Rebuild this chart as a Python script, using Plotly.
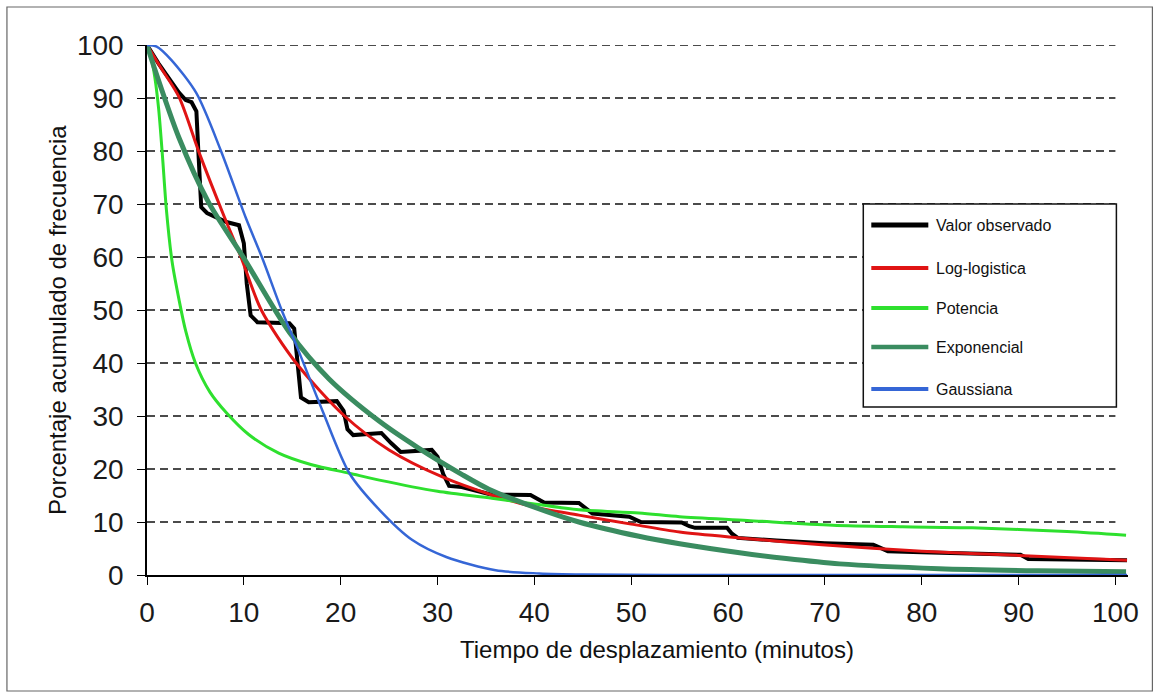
import plotly.graph_objects as go

# ---------------- data ----------------
series_names = ["Valor observado", "Log-logistica", "Potencia", "Exponencial", "Gaussiana"]

obs_x = [0, 1.2, 3.3, 4.0, 4.6, 5.1, 5.3, 5.6, 6.2, 8.2, 9.5, 10.0, 10.3, 10.7, 11.4, 14.7, 15.2,
         15.5, 15.9, 16.7, 19.6, 20.3, 20.7, 21.3, 24.2, 25.2, 26.2, 29.4, 30.0, 30.6, 31.2, 32.5,
         35.5, 39.6, 40.3, 41.0, 44.6, 45.3, 46.0, 49.8, 50.5, 51.0, 55.2, 56.0, 56.6, 59.9, 60.4,
         61.0, 65.0, 70.0, 75.0, 75.8, 76.5, 80.0, 85.0, 90.2, 91.0, 95.0, 101.2]
obs_y = [100, 96.5, 91, 89.6, 89.2, 87.5, 80, 69.4, 68.3, 66.6, 66, 62.6, 55, 49, 47.7, 47.5, 46.5,
         40, 33.5, 32.6, 32.8, 31, 27.5, 26.4, 26.8, 24.9, 23.2, 23.6, 22.3, 19, 16.8, 16.6,
         15.2, 15.1, 14.5, 13.7, 13.6, 12.5, 11.6, 11.0, 10.5, 10.0, 9.9, 9.2, 8.9, 8.9, 7.8,
         7.0, 6.5, 6.0, 5.7, 5.0, 4.5, 4.3, 4.1, 3.8, 3.0, 2.9, 2.8]

loglog_x = [0, 1.4, 3.3, 5.4, 8.0, 9.7, 11.8, 15.4, 20.4, 25.0, 30.5, 35.6, 40.0, 44.6, 50.0,
            55.0, 61.2, 69.7, 80.0, 90.0, 101.2]
loglog_y = [100, 95.8, 90.2, 79.6, 67.5, 60, 50, 40, 30, 23.6, 18.5, 15.1, 12.8, 11.3, 9.6,
            8.1, 7.0, 5.7, 4.5, 3.7, 2.8]

pot_x = [0, 0.4, 0.8, 1.2, 1.6, 2.0, 2.6, 3.3, 4.0, 5.0, 6.5, 8.2, 10.5, 13.6, 17, 20.9, 24,
         30, 35.6, 40, 44.6, 50.8, 55, 62, 70.8, 78, 85.2, 95, 101.1]
pot_y = [100, 98, 94, 88, 79, 69, 59, 52, 46, 40, 34.5, 30.6, 26.5, 23, 20.8, 19.2, 17.9,
         15.8, 14.5, 13.4, 12.3, 11.7, 11.0, 10.3, 9.4, 9.1, 8.9, 8.2, 7.5]

exp_x = [0, 0.7, 3.3, 6.3, 10, 14.7, 18.8, 24, 28, 32.5, 35.3, 40, 44.6, 50.8, 55, 61.2, 66,
         71.5, 81.8, 92, 101.1]
exp_y = [100, 96, 82.5, 70.5, 59.8, 45.8, 37, 29, 24, 19, 16.2, 12.8, 10, 7.3, 5.9, 4.2,
         3.1, 2.1, 1.2, 0.8, 0.6]

gau_x = [0, 1, 2.5, 5.1, 7.6, 10.2, 11.9, 13.9, 15.5, 18.1, 20.9, 24, 27.4, 30.9, 36, 40.5,
         45, 60, 80, 101.2]
gau_y = [100, 99.7, 97.2, 90.9, 80.2, 67.4, 59.8, 50, 43, 31.1, 19.2, 12.3, 6.6, 3.4, 0.9,
         0.3, 0.1, 0, 0, 0]

x_ticks = [0, 10, 20, 30, 40, 50, 60, 70, 80, 90, 100]
y_ticks = [0, 10, 20, 30, 40, 50, 60, 70, 80, 90, 100]
grid_levels = [10, 20, 30, 40, 50, 60, 70, 80, 90, 100]

x_title = "Tiempo de desplazamiento (minutos)"
y_title = "Porcentaje acumulado de frecuencia"

# ---------------- style ----------------
colors = ["#000000", "#e01414", "#2ee02e", "#3a8c60", "#3566d6"]
widths = [4, 3, 3, 5, 2.5]
shapes_ = ["linear", "spline", "spline", "spline", "spline"]

W, H = 1160, 700
L, R, T, B = 147, 1127.6, 45, 575
X_MAX = 101.3


def px(p):
    return (p - L) / (R - L)


def py(p):
    return (B - p) / (B - T)


FONT = "Liberation Sans, Arial, sans-serif"

fig = go.Figure()
data = [(obs_x, obs_y), (loglog_x, loglog_y), (pot_x, pot_y), (exp_x, exp_y), (gau_x, gau_y)]
for (xs, ys), name, c, w, sh in zip(data, series_names, colors, widths, shapes_):
    fig.add_trace(go.Scatter(x=xs, y=ys, mode="lines", name=name,
                             line=dict(color=c, width=w, shape=sh, smoothing=0.8),
                             showlegend=False, cliponaxis=False))

shapes = []
# dashed gridlines
for g in grid_levels:
    shapes.append(dict(type="line", xref="x", yref="y", x0=0, x1=100, y0=g, y1=g,
                       line=dict(color="#111111", width=1.4, dash="8px,5px"), layer="below"))
# outer frame
shapes.append(dict(type="rect", xref="paper", yref="paper", x0=px(7), x1=px(1152),
                   y0=py(691), y1=py(7), line=dict(color="#666666", width=1.2)))
# legend box
lb = (863, 204, 1116, 407)
shapes.append(dict(type="rect", xref="paper", yref="paper", x0=px(lb[0]), x1=px(lb[2]),
                   y0=py(lb[3]), y1=py(lb[1]), line=dict(color="#111111", width=1.5),
                   fillcolor="white", layer="above"))
annotations = []
leg_y = [225, 268, 308, 347, 389]
leg_w = [5, 4, 4, 4.5, 4]
for name, c, yy, lw in zip(series_names, colors, leg_y, leg_w):
    shapes.append(dict(type="line", xref="paper", yref="paper", x0=px(871), x1=px(928),
                       y0=py(yy), y1=py(yy), line=dict(color=c, width=lw), layer="above"))
    annotations.append(dict(xref="paper", yref="paper", x=px(934), y=py(yy), text=name,
                            showarrow=False, xanchor="left", yanchor="middle",
                            font=dict(family=FONT, size=16, color="#111111")))

annotations.append(dict(xref="paper", yref="paper", x=px(657), y=py(649), text=x_title,
                        showarrow=False, xanchor="center", yanchor="middle",
                        font=dict(family=FONT, size=24, color="#111111")))
annotations.append(dict(xref="paper", yref="paper", x=px(57), y=py(320), text=y_title,
                        showarrow=False, xanchor="center", yanchor="middle", textangle=-90,
                        font=dict(family=FONT, size=24, color="#111111")))

fig.update_layout(
    width=W, height=H,
    margin=dict(l=L, r=W - R, t=T, b=H - B),
    paper_bgcolor="white", plot_bgcolor="white",
    shapes=shapes, annotations=annotations,
    font=dict(family=FONT),
    xaxis=dict(range=[0, X_MAX], tickvals=x_ticks, ticktext=[str(v) for v in x_ticks],
               showgrid=False, zeroline=False, showline=True, linecolor="black", linewidth=1.5,
               ticks="outside", ticklen=8, tickcolor="black", tickwidth=1.2,
               tickfont=dict(family=FONT, size=28, color="#1a1a1a"), ticklabelstandoff=4),
    yaxis=dict(range=[0, 100], tickvals=y_ticks, ticktext=[str(v) for v in y_ticks],
               showgrid=False, zeroline=False, showline=True, linecolor="black", linewidth=1.5,
               ticks="outside", ticklen=8, tickcolor="black", tickwidth=1.2,
               tickfont=dict(family=FONT, size=28, color="#1a1a1a"), ticklabelstandoff=8),
)

fig.write_html("out.html")
